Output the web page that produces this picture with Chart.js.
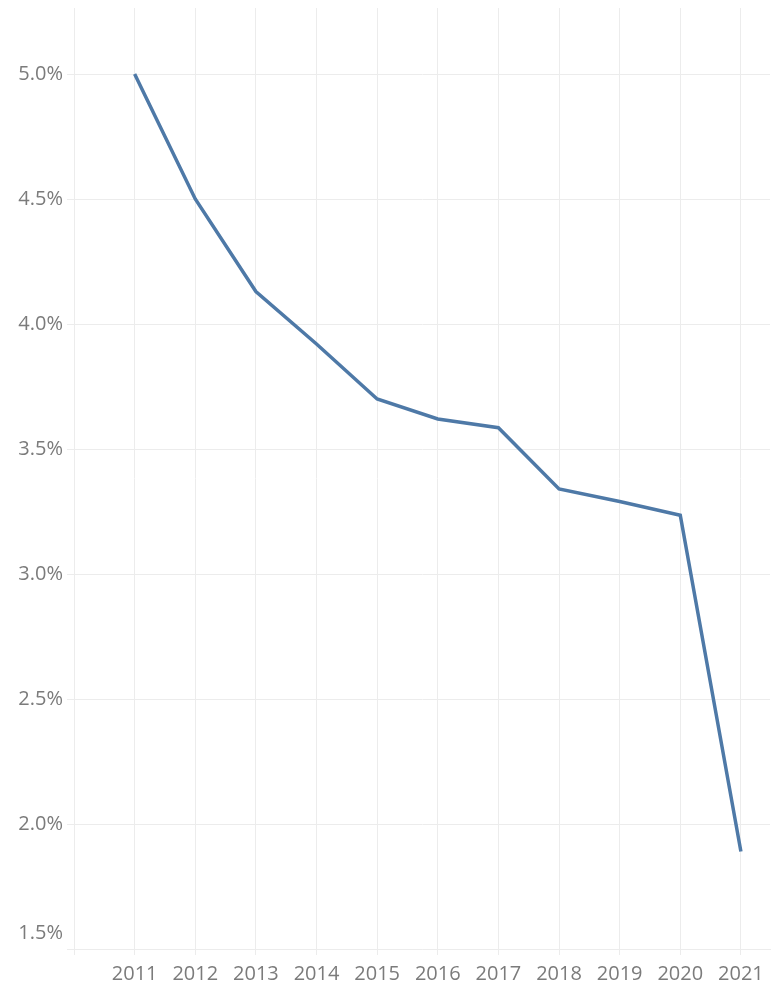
<!DOCTYPE html>
<html>
<head>
<meta charset="utf-8">
<script src="https://cdn.jsdelivr.net/npm/chart.js"></script>
<style>
  html, body { margin: 0; padding: 0; background: #fff; }
  #wrap { width: 771px; height: 987px; }
</style>
</head>
<body>
<div id="wrap"><canvas id="chart"></canvas></div>
<script>
  // values (percent)
  const years = [2011, 2012, 2013, 2014, 2015, 2016, 2017, 2018, 2019, 2020, 2021];
  const rates = [5.0, 4.5, 4.13, 3.92, 3.7, 3.62, 3.585, 3.34, 3.29, 3.235, 1.89];
  const yTicks = [1.5, 2.0, 2.5, 3.0, 3.5, 4.0, 4.5, 5.0];
  const xTicks = [2010, 2011, 2012, 2013, 2014, 2015, 2016, 2017, 2018, 2019, 2020, 2021];

  const gridColor = '#ececec';
  const labelColor = '#7b7b7b';
  const font = { family: 'Open Sans', size: 20 };

  // draw y labels ourselves so the bottom one stays inside the plot like the original
  const yLabels = {
    id: 'yLabels',
    afterDraw(chart) {
      const ctx = chart.ctx;
      const y = chart.scales.y;
      ctx.save();
      ctx.font = `${font.size}px ${font.family}`;
      ctx.fillStyle = labelColor;
      ctx.textAlign = 'right';
      ctx.textBaseline = 'middle';
      yTicks.forEach(v => {
        let py = y.getPixelForValue(v);
        py = Math.min(py, y.bottom - 16);
        ctx.fillText(v.toFixed(1) + '%', 63, py);
      });
      ctx.restore();
    }
  };

  new Chart(document.getElementById('chart'), {
    type: 'line',
    data: {
      datasets: [{
        data: years.map((yr, i) => ({ x: yr, y: rates[i] })),
        borderColor: '#4e79a7',
        borderWidth: 3.5,
        pointRadius: 0,
        tension: 0,
        fill: false
      }]
    },
    options: {
      responsive: true,
      maintainAspectRatio: false,
      animation: false,
      layout: { padding: { top: 8, right: 1, left: 0, bottom: 0 } },
      plugins: { legend: { display: false }, tooltip: { enabled: false } },
      scales: {
        x: {
          type: 'linear',
          min: 2010,
          max: 2021.48,
          afterBuildTicks: s => { s.ticks = xTicks.map(v => ({ value: v })); },
          ticks: {
            color: labelColor,
            font: font,
            padding: 7,
            maxRotation: 0,
            autoSkip: false,
            callback: v => (v === 2010 ? '' : String(v))
          },
          grid: { color: gridColor, tickLength: 6, lineWidth: 1 },
          border: { display: true, color: gridColor },
          afterFit: s => { s.height = 38; }
        },
        y: {
          type: 'linear',
          min: 1.5,
          max: 5.264,
          afterBuildTicks: s => { s.ticks = yTicks.map(v => ({ value: v })); },
          ticks: { display: false },
          grid: { color: gridColor, tickLength: 7, lineWidth: 1 },
          border: { display: true, color: gridColor },
          afterFit: s => { s.width = 74; }
        }
      }
    },
    plugins: [yLabels]
  });
</script>
</body>
</html>
